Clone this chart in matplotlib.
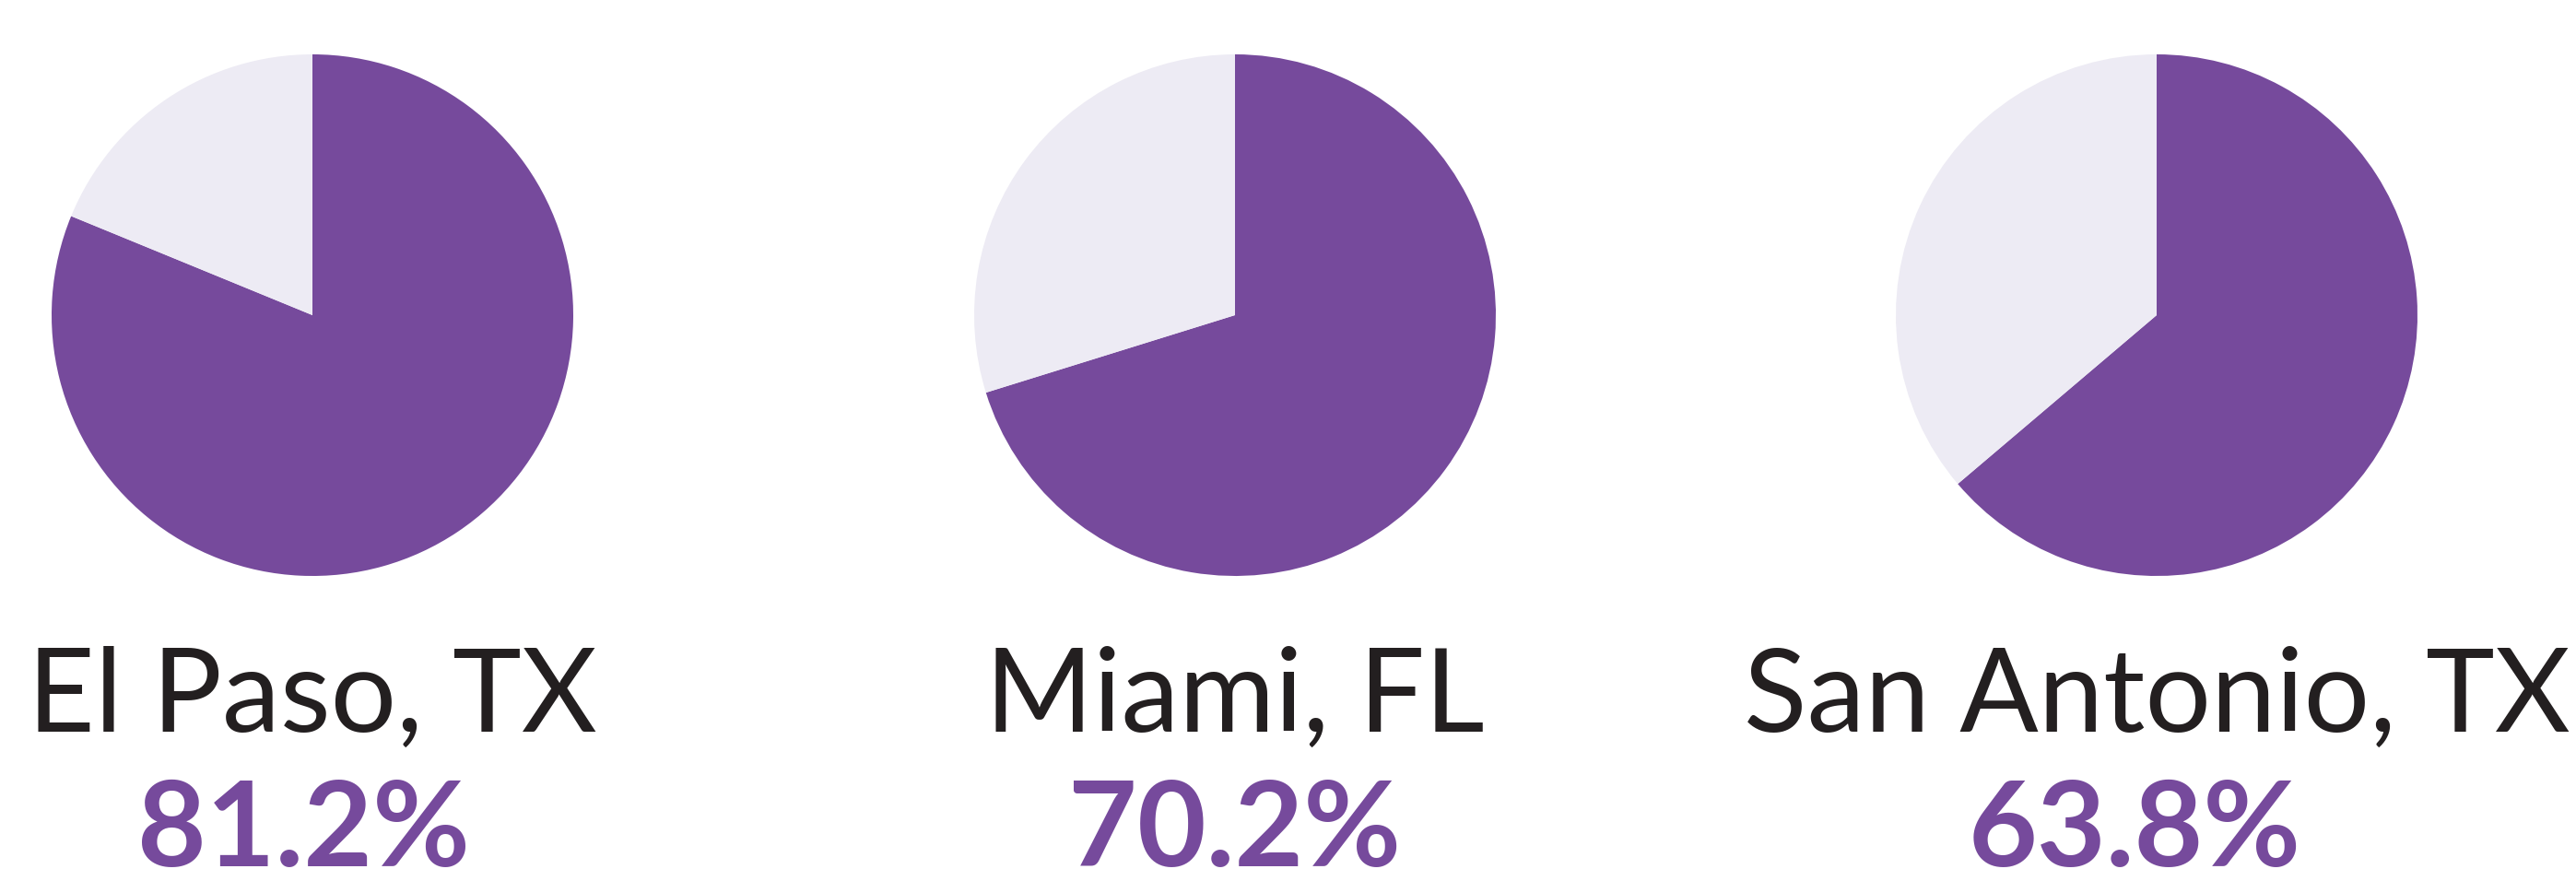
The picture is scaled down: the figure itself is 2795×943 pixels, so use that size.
import matplotlib
matplotlib.use("Agg")
import matplotlib.pyplot as plt

cities = ["El Paso, TX", "Miami, FL", "San Antonio, TX"]
values = [81.2, 70.2, 63.8]
value_labels = ["81.2%", "70.2%", "63.8%"]

PURPLE = "#764A9C"
LAVENDER = "#EDEBF4"
DARK = "#231F20"

W, H = 2795, 943
fig = plt.figure(figsize=(W / 100, H / 100), dpi=100)
fig.patch.set_facecolor("white")

centers_x = [339, 1340, 2340]
center_y = 342
r = 283
pct_x = [330, 1340, 2316]

for i, (city, v, lab) in enumerate(zip(cities, values, value_labels)):
    cx = centers_x[i]
    ax = fig.add_axes([(cx - r) / W, 1 - (center_y + r) / H, 2 * r / W, 2 * r / H])
    ax.pie([v, 100 - v], colors=[PURPLE, LAVENDER], startangle=90,
           counterclock=False, radius=1.0,
           wedgeprops=dict(linewidth=0))
    ax.set_xlim(-1, 1)
    ax.set_ylim(-1, 1)
    ax.set_aspect("equal")
    ax.axis("off")
    fig.text(cx / W, 1 - 794 / H, city, ha="center", va="baseline",
             fontsize=91, family="Lato", fontweight="normal", color=DARK)
    fig.text(pct_x[i] / W, 1 - 940 / H, lab, ha="center", va="baseline",
             fontsize=93, family="Lato", fontweight="bold", color=PURPLE)

fig.savefig("out.png", dpi=100)
